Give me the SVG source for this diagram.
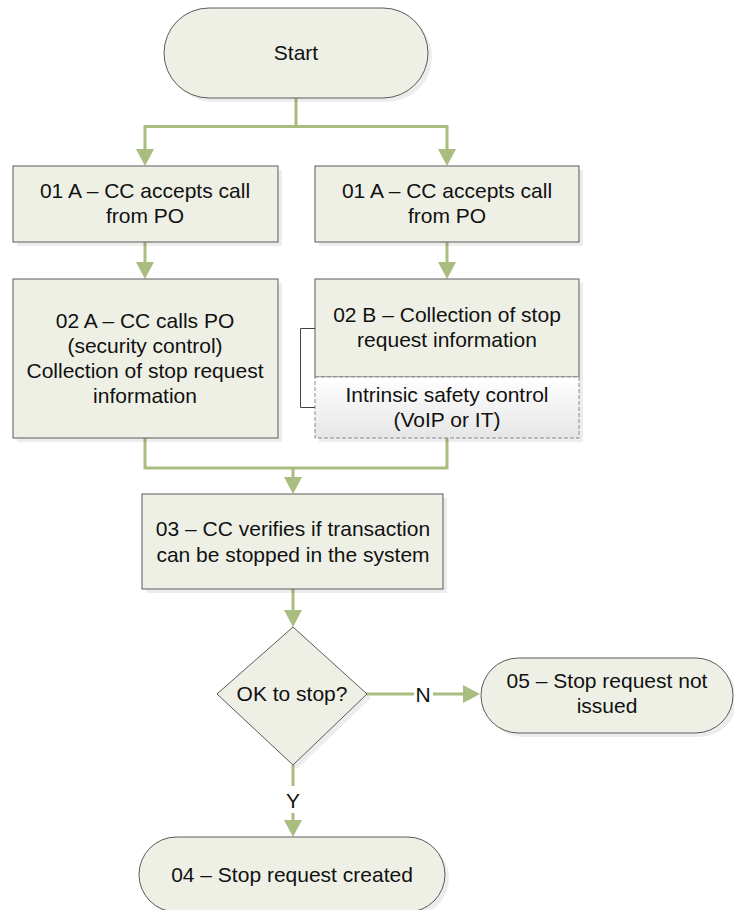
<svg xmlns="http://www.w3.org/2000/svg" width="734" height="910" viewBox="0 0 734 910">
  <style>
    .node { fill: #eef0e6; stroke: #5a5a5a; stroke-width: 1; }
    .shadow { fill: #000; opacity: 0.07; }
    .sub { fill: url(#subFill); stroke: #8a8a8a; stroke-width: 1; stroke-dasharray: 4 2; }
    .label { font-family: "Liberation Sans", Arial, sans-serif; font-size: 21px; fill: #111; text-anchor: middle; }
    .conn { fill: none; stroke: #a9bd80; stroke-width: 3; }
    .bracket { fill: none; stroke: #444; stroke-width: 1; }
  </style>
  <defs>
    <linearGradient id="subFill" x1="0" y1="0" x2="0" y2="1">
      <stop offset="0" stop-color="#ffffff"/>
      <stop offset="1" stop-color="#e6e6e6"/>
    </linearGradient>
  </defs>

  <rect width="734" height="910" fill="#ffffff"/>

  <!-- connectors -->
  <g id="connectors">
    <path class="conn" d="M296,98 V126.5 H145 V152"/>
    <path class="conn" d="M296,126.5 H447 V152"/>
    <path class="conn" d="M145,242 V265"/>
    <path class="conn" d="M447,242 V265"/>
    <path class="conn" d="M145,438 V468 H447 V438"/>
    <path class="conn" d="M293,468 V480"/>
    <path class="conn" d="M293,589 V613"/>
    <path class="conn" d="M367,694 H414"/>
    <path class="conn" d="M433,694 H466"/>
    <path class="conn" d="M293,765 V786"/>
    <path class="conn" d="M293,813 V823"/>
    <!-- arrowheads -->
    <g fill="#a9bd80">
      <polygon points="136,149 154,149 145,166"/>
      <polygon points="438,149 456,149 447,166"/>
      <polygon points="136,262 154,262 145,279"/>
      <polygon points="438,262 456,262 447,279"/>
      <polygon points="284,477 302,477 293,494"/>
      <polygon points="284,610 302,610 293,627"/>
      <polygon points="463,685 463,703 480,694"/>
      <polygon points="284,820 302,820 293,837"/>
    </g>
    <text class="label" x="423" y="702">N</text>
    <text class="label" x="293" y="808">Y</text>
  </g>

  <g id="start">
    <rect class="shadow" x="168" y="12" width="264" height="90" rx="45"/>
    <rect class="node" x="164" y="8" width="264" height="90" rx="45"/>
    <text class="label" x="296" y="60">Start</text>
  </g>

  <g id="step01a-left">
    <rect class="shadow" x="17" y="170" width="265" height="76"/>
    <rect class="node" x="13" y="166" width="265" height="76"/>
    <text class="label" x="145" y="198">01 A – CC accepts call</text>
    <text class="label" x="145" y="223">from PO</text>
  </g>

  <g id="step01a-right">
    <rect class="shadow" x="319" y="170" width="264" height="76"/>
    <rect class="node" x="315" y="166" width="264" height="76"/>
    <text class="label" x="447" y="198">01 A – CC accepts call</text>
    <text class="label" x="447" y="223">from PO</text>
  </g>

  <g id="step02a">
    <rect class="shadow" x="17" y="283" width="265" height="159"/>
    <rect class="node" x="13" y="279" width="265" height="159"/>
    <text class="label" x="145" y="328">02 A – CC calls PO</text>
    <text class="label" x="145" y="353">(security control)</text>
    <text class="label" x="145" y="378">Collection of stop request</text>
    <text class="label" x="145" y="403">information</text>
  </g>

  <g id="step02b">
    <rect class="shadow" x="319" y="283" width="264" height="159"/>
    <rect class="node" x="315" y="279" width="264" height="98"/>
    <text class="label" x="447" y="322">02 B – Collection of stop</text>
    <text class="label" x="447" y="347">request information</text>
    <rect class="sub" x="315" y="377" width="264" height="61"/>
    <text class="label" x="447" y="402">Intrinsic safety control</text>
    <text class="label" x="447" y="427">(VoIP or IT)</text>
    <path class="bracket" d="M315,328.5 H300.5 V407.5 H315"/>
  </g>

  <g id="step03">
    <rect class="shadow" x="146" y="498" width="301" height="95"/>
    <rect class="node" x="142" y="494" width="301" height="95"/>
    <text class="label" x="293" y="536">03 – CC verifies if transaction</text>
    <text class="label" x="293" y="562">can be stopped in the system</text>
  </g>

  <g id="decision">
    <polygon class="shadow" points="297,631 371,698 297,769 221,698"/>
    <polygon class="node" points="293,627 367,694 293,765 217,694"/>
    <text class="label" x="292" y="701">OK to stop?</text>
  </g>

  <g id="step05">
    <rect class="shadow" x="485" y="662" width="252" height="75" rx="37.5"/>
    <rect class="node" x="481" y="658" width="252" height="75" rx="37.5"/>
    <text class="label" x="607" y="688">05 – Stop request not</text>
    <text class="label" x="607" y="713">issued</text>
  </g>

  <g id="step04">
    <rect class="shadow" x="143" y="841" width="306" height="75" rx="37.5"/>
    <rect class="node" x="139" y="837" width="306" height="75" rx="37.5"/>
    <text class="label" x="292" y="882">04 – Stop request created</text>
  </g>
</svg>
